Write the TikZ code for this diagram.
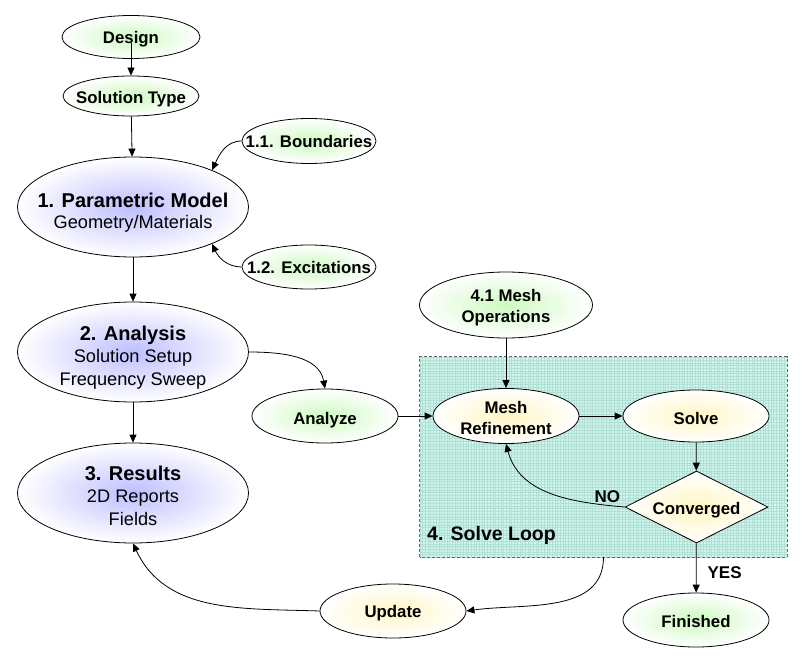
\documentclass[tikz,border=0pt]{standalone}
\usepackage{fontspec}
\setmainfont{Liberation Sans}
\usetikzlibrary{shapes.geometric,arrows.meta}
\newcommand{\ctxt}[2][3pt]{\raisebox{-#1}[0pt][0pt]{\vbox to 0pt{\vss\hbox to 0pt{\hss\begin{tabular}{@{}c@{}}#2\end{tabular}\hss}\vss}}}
\newcommand{\fSmallB}{\fontsize{16.8}{21}\selectfont\bfseries}
\newcommand{\fSubR}{\fontsize{18.2}{22.5}\selectfont}
\newcommand{\fTitleB}{\fontsize{20}{22.5}\selectfont\bfseries}
\definecolor{gfill}{RGB}{205,250,192}
\definecolor{pfill}{RGB}{190,190,255}
\definecolor{yfill}{RGB}{255,246,195}
\definecolor{loopfill}{RGB}{206,247,238}
\definecolor{loopgrid}{RGB}{178,222,212}
\tikzset{
  ell/.style={ellipse, draw, line width=0.8pt, inner sep=0pt},
  gnode/.style={ell, inner color=gfill, outer color=white, font=\fSmallB},
  pnode/.style={ell, inner color=pfill, outer color=white, font=\fSubR},
  ynode/.style={ell, inner color=yfill, outer color=white, font=\fSmallB},
  arr/.style={line width=0.8pt, -{Triangle[length=8pt,width=7pt]}},
  lbl/.style={font=\fontsize{17}{20}\selectfont\bfseries, inner sep=0pt}
}
\begin{document}
\begin{tikzpicture}[x=1pt,y=-1pt]
\useasboundingbox[fill=white] (0,0) rectangle (805,658);
% solve loop box
\node[fill=loopfill, minimum width=367pt, minimum height=200pt, inner sep=0pt] (loop) at (603.5,457) {};
\begin{scope}
  \clip (loop.south west) rectangle (loop.north east);
  \foreach \k in {0,...,136} {\draw[loopgrid, line width=0.3pt] ([xshift=\k*2.7pt]loop.south west) -- ([xshift=\k*2.7pt]loop.north west);}
  \foreach \k in {0,...,74} {\draw[loopgrid, line width=0.3pt] ([yshift=\k*2.7pt]loop.south west) -- ([yshift=\k*2.7pt]loop.south east);}
\end{scope}
\draw[black!60, dash pattern=on 3pt off 2pt, line width=0.8pt] (loop.south west) rectangle (loop.north east);
\node[anchor=base west, font=\fontsize{19.5}{22}\selectfont\bfseries, inner sep=0pt] (looplbl) at (427,540) {4. Solve Loop};

% nodes
\node[gnode, minimum width=138pt, minimum height=43pt] (design) at (131,37) {\ctxt[2pt]{Design}};
\node[gnode, minimum width=136pt, minimum height=40pt] (soltype) at (131,96) {\ctxt{Solution Type}};
\node[pnode, minimum width=231pt, minimum height=100pt, font={\fontsize{18.2}{20.5}\selectfont}] (pm) at (133,207) {\ctxt[7pt]{{\fTitleB 1. Parametric Model}\\Geometry/Materials}};
\node[gnode, minimum width=134pt, minimum height=45pt] (bound) at (309,141) {\ctxt[2.5pt]{1.1. Boundaries}};
\node[gnode, minimum width=134pt, minimum height=44pt] (exc) at (309,267) {\ctxt[2.5pt]{1.2. Excitations}};
\node[pnode, minimum width=231pt, minimum height=100pt] (an) at (133,352) {\ctxt[6pt]{{\fTitleB 2. Analysis}\\Solution Setup\\Frequency Sweep}};
\node[pnode, minimum width=231pt, minimum height=100pt] (rs) at (133,493) {\ctxt[5pt]{{\fTitleB 3. Results}\\2D Reports\\Fields}};
\node[gnode, minimum width=146pt, minimum height=54pt] (az) at (325,416) {\ctxt[4pt]{Analyze}};
\node[gnode, minimum width=173pt, minimum height=66pt] (mo) at (506,305) {\ctxt[2.5pt]{4.1 Mesh\\Operations}};
\node[ynode, minimum width=146pt, minimum height=55pt] (mr) at (506,416) {\ctxt[4pt]{Mesh\\Refinement}};
\node[ynode, minimum width=146pt, minimum height=52pt] (sv) at (696,416) {\ctxt[4pt]{Solve}};
\node[diamond, draw, line width=0.8pt, inner sep=0pt, inner color=yfill, outer color=white, font=\fSmallB,
      minimum width=143pt, minimum height=72pt] (cv) at (696.5,507) {\ctxt[3pt]{Converged}};
\node[gnode, minimum width=146pt, minimum height=54pt] (fn) at (696,620) {\ctxt[3.5pt]{Finished}};
\node[ynode, minimum width=146pt, minimum height=54pt] (up) at (393,611) {\ctxt[2.5pt]{Update}};

% connectors
\draw[arr] ([yshift=-6pt]design.center) -- (soltype);
\draw[arr] (soltype) -- (pm);
\draw[arr] (bound.west) to[out=180,in=65] (pm.25);
\draw[arr] (exc.west) to[out=180,in=-65] (pm.-25);
\draw[arr] (pm) -- (an);
\draw[arr] (an) -- (rs);
\draw[arr] (an.east) to[out=0,in=100] (az.north);
\draw[arr] (az) -- (mr);
\draw[arr] (mo) -- (mr);
\draw[arr] (mr) -- (sv);
\draw[arr] (sv) -- (cv);
\draw[arr] (cv.west) to[out=175,in=-75] node[pos=0, anchor=south east, lbl, xshift=-4pt, yshift=4pt] {NO} (mr.south);
\draw[arr] (cv) -- node[pos=0.6, anchor=west, lbl, xshift=11pt] {YES} (fn);
\draw[arr] (loop.south) to[out=-90,in=8] (up.east);
\draw[arr] (up.west) to[out=178,in=-65] (rs.south);
\end{tikzpicture}
\end{document}
